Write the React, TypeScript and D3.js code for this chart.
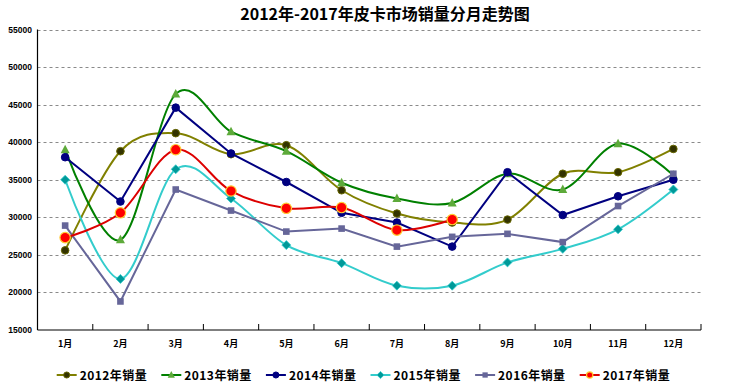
import React from "react";
import * as d3 from "d3";

const months = ["1月", "2月", "3月", "4月", "5月", "6月", "7月", "8月", "9月", "10月", "11月", "12月"];
const yTicks = [15000, 20000, 25000, 30000, 35000, 40000, 45000, 50000, 55000];

const sales2012 = [25600, 38800, 41200, 38400, 39600, 33600, 30500, 29300, 29700, 35800, 36000, 39100];
const sales2013 = [39000, 27000, 46400, 41400, 38800, 34600, 32500, 31900, 35800, 33700, 39800, 35600];
const sales2014 = [38000, 32100, 44600, 38500, 34700, 30600, 29300, 26100, 36000, 30300, 32800, 35000];
const sales2015 = [35000, 21800, 36400, 32500, 26300, 23900, 20900, 20900, 24000, 25800, 28400, 33700];
const sales2016 = [28900, 18800, 33700, 30900, 28100, 28500, 26100, 27400, 27800, 26700, 31500, 35800];
const sales2017 = [27300, 30600, 39000, 33500, 31200, 31300, 28300, 29700, null, null, null, null];

type Series = {
  name: string;
  values: (number | null)[];
  line: string;
  fill: string;
  stroke: string;
  shape: string;
  smooth: boolean;
};

const series: Series[] = [
  { name: "2012年销量", values: sales2012, line: "#808000", fill: "#333300", stroke: "#666600", shape: "circle", smooth: true },
  { name: "2013年销量", values: sales2013, line: "#008000", fill: "#5DAA3A", stroke: "#5DAA3A", shape: "triangle", smooth: true },
  { name: "2014年销量", values: sales2014, line: "#000080", fill: "#000080", stroke: "#000080", shape: "circle", smooth: false },
  { name: "2015年销量", values: sales2015, line: "#33CCCC", fill: "#009999", stroke: "#33CCCC", shape: "diamond", smooth: true },
  { name: "2016年销量", values: sales2016, line: "#666699", fill: "#666699", stroke: "#666699", shape: "square", smooth: false },
  { name: "2017年销量", values: sales2017, line: "#DD0000", fill: "#FF0000", stroke: "#FFCC33", shape: "bigcircle", smooth: true },
];

function Marker({ s, x, y, k = 1 }: { s: Series; x: number; y: number; k?: number }) {
  if (s.shape === "circle")
    return <circle cx={x} cy={y} r={3.8 * k} fill={s.fill} stroke={s.stroke} strokeWidth={1} />;
  if (s.shape === "bigcircle")
    return <circle cx={x} cy={y} r={5.2 * k} fill={s.fill} stroke={s.stroke} strokeWidth={1.2} />;
  if (s.shape === "triangle")
    return <path d={`M${x},${y - 5 * k}L${x + 4.5 * k},${y + 3.5 * k}L${x - 4.5 * k},${y + 3.5 * k}Z`} fill={s.fill} />;
  if (s.shape === "diamond")
    return <path d={`M${x},${y - 4.5 * k}L${x + 4.5 * k},${y}L${x},${y + 4.5 * k}L${x - 4.5 * k},${y}Z`} fill={s.fill} stroke={s.stroke} strokeWidth={0.8} />;
  return <rect x={x - 3.3 * k} y={y - 3.3 * k} width={6.6 * k} height={6.6 * k} fill={s.fill} />;
}

export default function App() {
  const left = 37.5, right = 701, top = 29.5, bottom = 330;
  const x = d3.scaleBand<string>().domain(months).range([left, right]);
  const y = d3.scaleLinear().domain([15000, 55000]).range([bottom, top]);
  const cx = (m: string) => (x(m) as number) + x.bandwidth() / 2;

  const legendX = d3.scaleBand<string>().domain(series.map((s) => s.name)).range([56.7, 56.7 + 104.6 * 6]);

  return (
    <svg width={742} height={387} style={{ position: "absolute", left: 0, top: 0, background: "#fff" }}>
      <text x={385} y={20} textAnchor="middle" fontFamily="'Noto Sans CJK SC', sans-serif" fontWeight="bold" fontSize={16} fill="#000">
        2012年-2017年皮卡市场销量分月走势图
      </text>

      {yTicks.slice(1).map((t) => (
        <line key={t} x1={left} x2={right} y1={Math.round(y(t)) + 0.5} y2={Math.round(y(t)) + 0.5} stroke="#8a8a8a" strokeDasharray="3,3" />
      ))}
      {yTicks.map((t) => (
        <text key={t} x={32} y={y(t) + 3} textAnchor="end" fontFamily="'Liberation Sans', Arial, sans-serif" fontWeight="bold" fontSize={8.5} fill="#000">
          {t}
        </text>
      ))}

      <line x1={left} x2={left} y1={top} y2={bottom} stroke="#000" strokeWidth={1.2} />
      <line x1={left} x2={right} y1={bottom} y2={bottom} stroke="#000" strokeWidth={1.2} />
      {months.map((m) => (
        <line key={m} x1={(x(m) as number) + x.bandwidth()} x2={(x(m) as number) + x.bandwidth()} y1={bottom} y2={bottom - 6} stroke="#000" />
      ))}
      {months.map((m) => (
        <text key={m} x={cx(m)} y={347} textAnchor="middle" fontFamily="'Noto Sans CJK SC', sans-serif" fontWeight="bold" fontSize={9} fill="#000">
          {m}
        </text>
      ))}

      {series.map((s) => {
        const gen = d3
          .line<number | null>()
          .defined((d) => d !== null)
          .x((_, i) => cx(months[i]))
          .y((d) => y(d as number))
          .curve(s.smooth ? d3.curveCardinal.tension(0) : d3.curveLinear);
        return (
          <g key={s.name}>
            <path d={gen(s.values) || ""} fill="none" stroke={s.line} strokeWidth={2} />
            {s.values.map((v, i) => (v === null ? null : <Marker key={i} s={s} x={cx(months[i])} y={y(v)} />))}
          </g>
        );
      })}

      {series.map((s) => {
        const lx = legendX(s.name) as number;
        return (
          <g key={s.name}>
            <line x1={lx} x2={lx + 20} y1={375} y2={375} stroke={s.line} strokeWidth={2} />
            <Marker s={s} x={lx + 10} y={375} k={s.shape === "bigcircle" ? 0.6 : 0.8} />
            <text x={lx + 23} y={379.5} textLength={67} lengthAdjust="spacing" fontFamily="'Noto Sans CJK SC', sans-serif" fontWeight="bold" fontSize={12} fill="#000">
              {s.name}
            </text>
          </g>
        );
      })}
    </svg>
  );
}
